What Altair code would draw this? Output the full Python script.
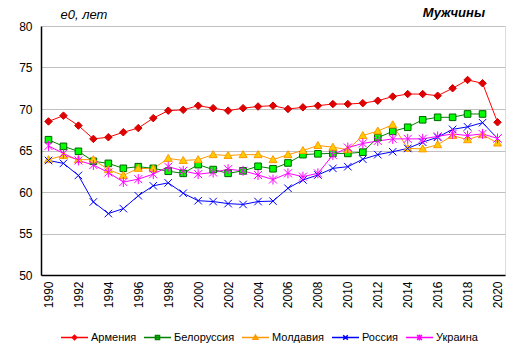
import altair as alt
import pandas as pd

years = list(range(1990, 2021))
countries = ["Армения", "Белоруссия", "Молдавия", "Россия", "Украина"]

armenia = [68.5, 69.2, 68.0, 66.4, 66.6, 67.2, 67.7, 68.9, 69.8, 69.9, 70.4, 70.1, 69.8, 70.1, 70.3,
           70.4, 70.0, 70.2, 70.4, 70.6, 70.6, 70.7, 71.0, 71.5, 71.8, 71.8, 71.6, 72.5, 73.5, 73.1, 68.4]
belarus = [66.3, 65.5, 64.9, 63.7, 63.45, 62.85, 63.05, 62.85, 62.5, 62.25, 63.3, 62.7, 62.25, 62.55, 63.1,
           62.8, 63.5, 64.5, 64.6, 64.65, 64.65, 64.8, 66.55, 67.3, 67.8, 68.7, 69.0, 69.0, 69.4, 69.4, None]
moldova = [63.9, 64.4, 63.9, 63.9, 62.7, 62.0, 62.85, 62.8, 64.05, 63.8, 63.9, 64.5, 64.4, 64.5, 64.5,
           63.9, 64.5, 65.0, 65.6, 65.4, 65.1, 66.8, 67.35, 68.1, 65.25, 65.2, 65.7, 66.8, 66.3, 66.9, 65.9]
russia = [63.8, 63.45, 62.0, 58.8, 57.4, 58.0, 59.55, 60.75, 61.1, 59.85, 58.95, 58.85, 58.6, 58.5, 58.85,
          58.9, 60.45, 61.45, 62.05, 62.85, 63.05, 63.95, 64.5, 64.85, 65.25, 66.0, 66.6, 67.55, 67.85, 68.35, 66.45]
ukraine = [65.55, 64.65, 63.8, 63.25, 62.35, 61.2, 61.55, 62.15, 63.05, 62.55, 62.15, 62.35, 62.75, 62.55, 62.05,
           61.5, 62.25, 61.85, 62.25, 64.45, 65.35, 65.85, 66.15, 66.4, 66.4, 66.4, 66.7, 67.0, 66.8, 67.0, 66.45]

series = [armenia, belarus, moldova, russia, ukraine]
rows = []
for c, vals in zip(countries, series):
    for yr, v in zip(years, vals):
        if v is not None:
            rows.append({"year": yr, "country": c, "value": v})
df = pd.DataFrame(rows)

line_colors = ["#FF0000", "#008000", "#FF9900", "#0000FF", "#FF00FF"]
line_widths = [1, 1, 1, 1, 3]
marker_fills = ["#E00000", "#00FF00", "#FFCC00", "#0000FF", "#FF00FF"]
marker_strokes = ["#D00000", "#006400", "#FF9900", "#0000FF", "#FF00FF"]
marker_paths = [
    "M0,-0.75L0.75,0L0,0.75L-0.75,0Z",
    "M-0.66,-0.66H0.66V0.66H-0.66Z",
    "M0,-0.8L0.8,0.6L-0.8,0.6Z",
    "M-0.75,-0.75L0.75,0.75M-0.75,0.75L0.75,-0.75",
    "M-0.8,-0.8L0.8,0.8M-0.8,0.8L0.8,-0.8M0,-1L0,1",
]
legend_paths = [
    "M-1,0H1M0,-0.17L0.17,0L0,0.17L-0.17,0Z",
    "M-1,0H1M-0.15,-0.15H0.15V0.15H-0.15Z",
    "M-1,0H1M0,-0.18L0.18,0.13L-0.18,0.13Z",
    "M-1,0H1M-0.17,-0.17L0.17,0.17M-0.17,0.17L0.17,-0.17",
    "M-1,0H1M-0.18,-0.18L0.18,0.18M-0.18,0.18L0.18,-0.18M0,-0.22L0,0.22",
]

FONT = "Liberation Sans"

x_enc = alt.X(
    "year:Q",
    scale=alt.Scale(domain=[1989.5, 2020.5], nice=False, zero=False),
    axis=alt.Axis(
        values=list(range(1990, 2021, 2)), format="d", labelAngle=270, labelAlign="right",
        labelBaseline="middle", ticks=False, grid=False, domainColor="black", domainWidth=1.5,
        labelPadding=6, labelFontSize=12, labelFont=FONT, labelColor="black", title=None,
        labelOverlap=False,
    ),
)
y_enc = alt.Y(
    "value:Q",
    scale=alt.Scale(domain=[50, 80], nice=False, zero=False),
    axis=alt.Axis(
        values=[50, 55, 60, 65, 70, 75, 80], ticks=False, gridColor="#C0C0C0", gridWidth=1,
        domainColor="black", domainWidth=1.5, labelPadding=9, labelFontSize=12, labelFont=FONT,
        labelColor="black", title="e0, лет", titleAngle=0, titleX=19, titleY=-12,
        titleAlign="left", titleBaseline="middle", titleFontStyle="italic",
        titleFontWeight="normal", titleFontSize=13, titleFont=FONT, titleColor="black",
    ),
)

base = alt.Chart(df)

lines = base.transform_filter("isValid(datum.value)").mark_line().encode(
    x=x_enc, y=y_enc,
    color=alt.Color("country:N", scale=alt.Scale(domain=countries, range=line_colors), legend=None),
    strokeWidth=alt.StrokeWidth("country:O", scale=alt.Scale(domain=countries, range=line_widths), legend=None),
    detail="country:N",
)

points = base.mark_point(size=100, strokeWidth=1, opacity=1, fillOpacity=1).encode(
    x=x_enc, y=y_enc,
    shape=alt.Shape("country:N", scale=alt.Scale(domain=countries, range=marker_paths), legend=None),
    fill=alt.Fill("country:N", scale=alt.Scale(domain=countries, range=marker_fills), legend=None),
    stroke=alt.Stroke("country:N", scale=alt.Scale(domain=countries, range=marker_strokes), legend=None),
)

leg = dict(title=None, orient="none", legendX=19, legendY=297, direction="horizontal", columns=5,
           gridAlign="none", labelFont=FONT, labelFontSize=11, labelColor="black", labelOffset=2,
           columnPadding=4, padding=0, symbolSize=729)

dummy = base.transform_filter("false").mark_point(size=729, strokeWidth=1, opacity=1, fillOpacity=1).encode(
    x=x_enc, y=y_enc,
    shape=alt.Shape("country:N", scale=alt.Scale(domain=countries, range=legend_paths), legend=alt.Legend(**leg)),
    fill=alt.Fill("country:N", scale=alt.Scale(domain=countries, range=marker_fills), legend=alt.Legend(**leg)),
    stroke=alt.Stroke("country:N", scale=alt.Scale(domain=countries, range=line_colors), legend=alt.Legend(**leg)),
)

chart = alt.layer(lines, points, dummy).resolve_scale(
    shape="independent", fill="independent", stroke="independent"
).properties(
    width=464, height=249,
    autosize=alt.AutoSizeParams(type="none"),
    padding={"left": 41, "top": 26, "right": 14, "bottom": 78},
    title=alt.TitleParams("Мужчины", anchor="end", frame="group", dx=-20, offset=-12,
                          font=FONT, fontSize=13, fontStyle="italic", fontWeight="bold", color="black"),
).configure_view(stroke="#8C8C8C", strokeWidth=1).configure(background="white")

chart.save("out.html", embed_options={"renderer": "svg", "actions": False})
